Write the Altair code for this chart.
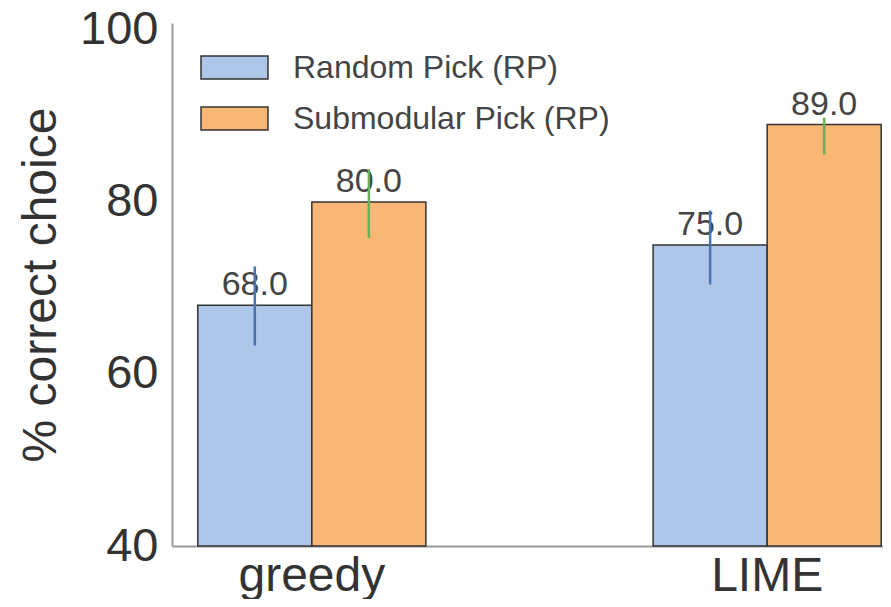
import altair as alt
import pandas as pd

categories = ["greedy", "LIME"]
series = ["Random Pick (RP)", "Submodular Pick (RP)"]
rp_values = [68.0, 75.0]
sp_values = [80.0, 89.0]
rp_err_lo = [63.3, 70.4]
rp_err_hi = [72.5, 79.0]
sp_err_lo = [75.8, 85.5]
sp_err_hi = [83.8, 89.8]
y_ticks = [40, 60, 80, 100]

bar_colors = ["#aec7e8", "#f9b776"]
err_colors = ["#4c72b0", "#6aae5c"]

rows = []
for i, c in enumerate(categories):
    rows.append({"cat": c, "series": series[0], "value": rp_values[i], "lo": rp_err_lo[i], "hi": rp_err_hi[i]})
    rows.append({"cat": c, "series": series[1], "value": sp_values[i], "lo": sp_err_lo[i], "hi": sp_err_hi[i]})
df = pd.DataFrame(rows)

FONT = "Liberation Sans"

x_enc = alt.X(
    "cat:N",
    sort=categories,
    scale=alt.Scale(range=[0, 735], paddingInner=0.499, paddingOuter=0.0566),
    axis=alt.Axis(
        title=None, labelAngle=0, labelFontSize=48, labelColor="#333333",
        labelFont=FONT, ticks=False, domainColor="#999999", domainWidth=2,
        labelPadding=6,
    ),
)
xo_enc = alt.XOffset("series:N", sort=series, scale=alt.Scale(paddingInner=0, paddingOuter=0))
y_scale = alt.Scale(domain=[40, 100.8], zero=False, nice=False)

base = alt.Chart(df)

bars = base.mark_bar(stroke="#333333", strokeWidth=1.5).encode(
    x=x_enc,
    xOffset=xo_enc,
    y=alt.Y(
        "value:Q",
        scale=y_scale,
        axis=alt.Axis(
            values=y_ticks, title="% correct choice", titleFontSize=48,
            titleFontWeight="normal", titleColor="#333333", titleFont=FONT,
            labelFontSize=47, labelColor="#333333", labelFont=FONT,
            ticks=False, grid=False, domainColor="#999999", domainWidth=2,
            labelPadding=14, titlePadding=14,
        ),
    ),
    y2=alt.datum(40),
    color=alt.Color(
        "series:N",
        sort=series,
        scale=alt.Scale(domain=series, range=bar_colors),
        legend=alt.Legend(
            title=None, orient="none", legendX=28, legendY=10,
            symbolType="M-1,-0.343L1,-0.343L1,0.343L-1,0.343Z",
            symbolSize=4489, symbolStrokeColor="#333333", symbolStrokeWidth=1.5,
            symbolOpacity=1, labelFontSize=32, labelColor="#444444",
            labelFont=FONT, labelOffset=24, rowPadding=-12, padding=0,
            labelLimit=0,
        ),
    ),
)

errs = base.mark_rule(strokeWidth=2.5).encode(
    x=x_enc,
    xOffset=xo_enc,
    y=alt.Y("lo:Q", scale=y_scale),
    y2="hi:Q",
    color=alt.Color("series:N", sort=series, scale=alt.Scale(domain=series, range=err_colors), legend=None),
)

labels = base.mark_text(
    baseline="bottom", dy=-3, fontSize=34, color="#444444", font=FONT
).encode(
    x=x_enc,
    xOffset=xo_enc,
    y=alt.Y("value:Q", scale=y_scale),
    text=alt.Text("value:Q", format=".1f"),
)

chart = (
    alt.layer(bars, labels, errs)
    .resolve_scale(color="independent")
    .properties(
        width=711, height=523,
        autosize=alt.AutoSizeParams(type="none"),
        padding={"left": 164, "top": 15, "right": 0, "bottom": 53},
        background="white",
    )
    .configure_view(stroke=None)
)

chart.save("out.html", embed_options={"renderer": "svg", "actions": False})
